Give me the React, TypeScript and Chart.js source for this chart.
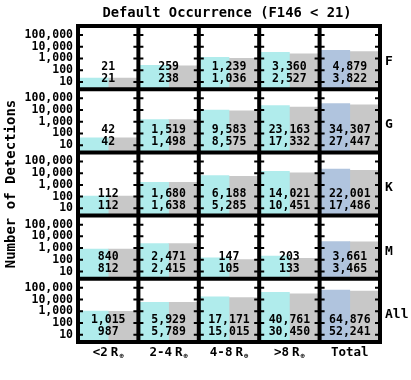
import React, { useEffect, useRef } from 'react';
import { Chart, registerables } from 'chart.js';

Chart.register(...registerables);

const titleText = 'Default Occurrence (F146 < 21)';
const yTitleText = 'Number of Detections';
const columnLabels = ['<2', '2-4', '4-8', '>8', 'Total'];
const columnHasRadius = [true, true, true, true, false];
const rowLabels = ['F', 'G', 'K', 'M', 'All'];
const tickValues = [10, 100, 1000, 10000, 100000];

// top number (cyan / blue bar) and bottom number (gray bar) per panel
const cyanF = [21, 259, 1239, 3360, 4879];
const grayF = [21, 238, 1036, 2527, 3822];
const cyanG = [42, 1519, 9583, 23163, 34307];
const grayG = [42, 1498, 8575, 17332, 27447];
const cyanK = [112, 1680, 6188, 14021, 22001];
const grayK = [112, 1638, 5285, 10451, 17486];
const cyanM = [840, 2471, 147, 203, 3661];
const grayM = [812, 2415, 105, 133, 3465];
const cyanAll = [1015, 5929, 17171, 40761, 64876];
const grayAll = [987, 5789, 15015, 30450, 52241];

const cyanSeries = [cyanF, cyanG, cyanK, cyanM, cyanAll];
const graySeries = [grayF, grayG, grayK, grayM, grayAll];

const Y_MIN = Math.pow(10, 0.38);
const Y_MAX = Math.pow(10, 5.77);

const FONT = '"DejaVu Sans Mono", monospace';
const CYAN = '#b0ecec';
const BLUE = '#b0c4de';
const GRAY = '#c8c8c8';

const fmt = (v: number) => v.toLocaleString('en-US');

const gridPlugin = {
  id: 'panelGrid',
  afterDatasetsDraw(chart: any) {
    const ctx = chart.ctx as CanvasRenderingContext2D;
    const { left, right, top, bottom } = chart.chartArea;
    const xs = chart.scales.x;
    const colW = (right - left) / columnLabels.length;
    const lineXs: number[] = [];
    for (let i = 0; i < columnLabels.length; i++) {
      lineXs.push(xs.getPixelForValue(i) - colW / 2);
    }
    lineXs.push(xs.getPixelForValue(columnLabels.length - 1) + colW / 2);

    ctx.save();
    // panel numbers
    ctx.fillStyle = '#000';
    ctx.font = `bold 11.5px ${FONT}`;
    ctx.textAlign = 'center';
    ctx.textBaseline = 'middle';
    rowLabels.forEach((_, ri) => {
      const ys = chart.scales['y' + ri];
      columnLabels.forEach((__, ci) => {
        const cx = xs.getPixelForValue(ci);
        ctx.fillText(fmt(cyanSeries[ri][ci]), cx, ys.bottom - 22);
        ctx.fillText(fmt(graySeries[ri][ci]), cx, ys.bottom - 10);
      });
    });

    // grid lines
    ctx.strokeStyle = '#000';
    ctx.lineWidth = 4;
    ctx.lineCap = 'square';
    ctx.beginPath();
    lineXs.forEach((x) => {
      ctx.moveTo(x, top);
      ctx.lineTo(x, bottom);
    });
    rowLabels.forEach((_, ri) => {
      const ys = chart.scales['y' + ri];
      ctx.moveTo(left, ys.top);
      ctx.lineTo(right, ys.top);
    });
    ctx.moveTo(left, bottom);
    ctx.lineTo(right, bottom);
    ctx.stroke();

    // tick marks on every vertical line
    ctx.lineWidth = 2;
    ctx.lineCap = 'butt';
    ctx.beginPath();
    rowLabels.forEach((_, ri) => {
      const ys = chart.scales['y' + ri];
      tickValues.forEach((v) => {
        const y = ys.getPixelForValue(v);
        lineXs.forEach((x, i) => {
          const x0 = i === 0 ? x : x - 5;
          const x1 = i === lineXs.length - 1 ? x : x + 5;
          ctx.moveTo(x0, y);
          ctx.lineTo(x1, y);
        });
      });
    });
    ctx.stroke();

    // row labels
    ctx.font = `bold 13px ${FONT}`;
    ctx.textAlign = 'left';
    rowLabels.forEach((label, ri) => {
      const ys = chart.scales['y' + ri];
      ctx.fillText(label, right + 5, (ys.top + ys.bottom) / 2 + 4);
    });

    // column labels
    const ly = bottom + 11;
    columnLabels.forEach((label, ci) => {
      const cx = xs.getPixelForValue(ci);
      ctx.textAlign = 'left';
      if (columnHasRadius[ci]) {
        ctx.font = `bold 12.5px ${FONT}`;
        const w1 = ctx.measureText(label).width;
        const wR = ctx.measureText('R').width;
        ctx.font = `bold 7px ${FONT}`;
        const wS = ctx.measureText('\u2295').width;
        const gap = 3;
        const total = w1 + gap + wR + 1 + wS;
        let x = cx - total / 2;
        ctx.font = `bold 12.5px ${FONT}`;
        ctx.fillText(label, x, ly);
        x += w1 + gap;
        ctx.fillText('R', x, ly);
        x += wR + 1;
        ctx.font = `bold 7px ${FONT}`;
        ctx.fillText('\u2295', x, ly + 3);
      } else {
        ctx.font = `bold 12.5px ${FONT}`;
        ctx.textAlign = 'center';
        ctx.fillText(label, cx, ly);
      }
    });

    // title
    ctx.font = `bold 13.8px ${FONT}`;
    ctx.textAlign = 'center';
    ctx.fillText(titleText, (left + right) / 2 - 2, 13);

    // y axis title
    ctx.translate(11, (top + bottom) / 2);
    ctx.rotate(-Math.PI / 2);
    ctx.font = `bold 14px ${FONT}`;
    ctx.fillText(yTitleText, 0, 0);
    ctx.restore();
  },
};

export default function App() {
  const ref = useRef<HTMLCanvasElement | null>(null);

  useEffect(() => {
    if (!ref.current) return;
    const datasets: any[] = [];
    const scales: any = {
      x: {
        type: 'category',
        display: false,
        offset: true,
        grid: { display: false },
      },
    };
    rowLabels.forEach((_, ri) => {
      const id = 'y' + ri;
      datasets.push({
        label: rowLabels[ri] + ' cyan',
        data: cyanSeries[ri],
        yAxisID: id,
        stack: 'cyan',
        backgroundColor: columnLabels.map((__, ci) => (ci === columnLabels.length - 1 ? BLUE : CYAN)),
        borderWidth: 0,
        categoryPercentage: 1,
        barPercentage: 1,
      });
      datasets.push({
        label: rowLabels[ri] + ' gray',
        data: graySeries[ri],
        yAxisID: id,
        stack: 'gray',
        backgroundColor: GRAY,
        borderWidth: 0,
        categoryPercentage: 1,
        barPercentage: 1,
      });
    });
    // stacked axes are laid out bottom-up, so insert the last row first
    for (let ri = rowLabels.length - 1; ri >= 0; ri--) {
      scales['y' + ri] = {
        type: 'logarithmic',
        position: 'left',
        stack: 'rows',
        stackWeight: 1,
        stacked: false,
        bounds: 'data',
        min: Y_MIN,
        max: Y_MAX,
        grid: { display: false, drawTicks: false },
        border: { display: false },
        afterBuildTicks: (scale: any) => {
          scale.ticks = tickValues.map((v) => ({ value: v }));
        },
        afterFit: (scale: any) => {
          scale.width = 78;
        },
        ticks: {
          autoSkip: false,
          padding: 5,
          color: '#000',
          font: { family: FONT, size: 11.5, weight: 'bold', lineHeight: 1 },
          callback: (v: any) => fmt(Number(v)),
        },
      };
    }

    const chart = new Chart(ref.current, {
      type: 'bar',
      data: { labels: columnLabels, datasets },
      options: {
        animation: false,
        responsive: false,
        maintainAspectRatio: false,
        layout: { padding: { left: 0, right: 31, top: 26, bottom: 38 } },
        plugins: {
          legend: { display: false },
          tooltip: { enabled: false },
          title: { display: false },
        },
        scales,
      },
      plugins: [gridPlugin],
    } as any);
    return () => chart.destroy();
  }, []);

  return (
    <div style={{ position: 'absolute', left: 0, top: 0, width: 411, height: 380, background: '#fff' }}>
      <canvas ref={ref} width={411} height={380} style={{ display: 'block', width: 411, height: 380 }} />
    </div>
  );
}
